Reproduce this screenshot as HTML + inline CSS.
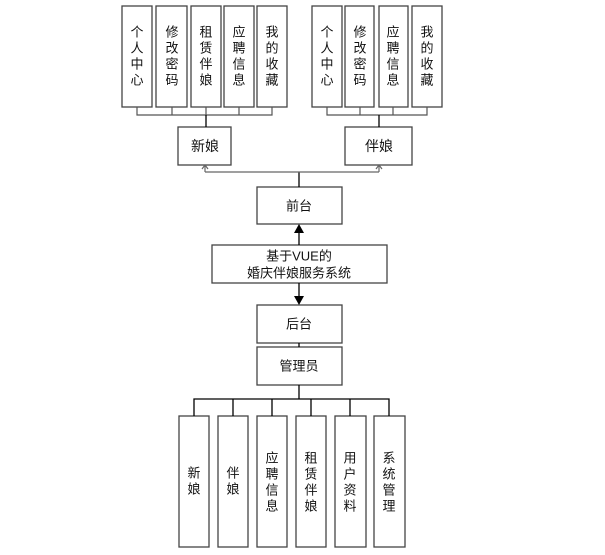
<!DOCTYPE html>
<html><head><meta charset="utf-8"><style>
html,body{margin:0;padding:0;background:#fff;width:605px;height:555px;overflow:hidden}
svg text{font-family:"Liberation Sans","Noto Sans CJK SC",sans-serif;font-size:13px;fill:#111;text-anchor:middle;dominant-baseline:central}
</style></head><body>
<svg width="605" height="555" viewBox="0 0 605 555" xmlns="http://www.w3.org/2000/svg">
<g fill="#fff" stroke="#444" stroke-width="1.3">
<!-- top left group -->
<rect x="122" y="6" width="30" height="101"/>
<rect x="156" y="6" width="31" height="101"/>
<rect x="191" y="6" width="30" height="101"/>
<rect x="224" y="6" width="30" height="101"/>
<rect x="257" y="6" width="30" height="101"/>
<!-- top right group -->
<rect x="312" y="6" width="30" height="101"/>
<rect x="345" y="6" width="29" height="101"/>
<rect x="379" y="6" width="29" height="101"/>
<rect x="412" y="6" width="30" height="101"/>
<rect x="178" y="127" width="53" height="38"/>
<rect x="345" y="127" width="67" height="38"/>
<rect x="257" y="187" width="85" height="37"/>
<rect x="212" y="245" width="175" height="38"/>
<rect x="257" y="305" width="85" height="38"/>
<rect x="257" y="347" width="85" height="38"/>
<rect x="179" y="416" width="30" height="131"/>
<rect x="218" y="416" width="30" height="131"/>
<rect x="257" y="416" width="30" height="131"/>
<rect x="296" y="416" width="30" height="131"/>
<rect x="335" y="416" width="31" height="131"/>
<rect x="374" y="416" width="31" height="131"/>
</g>
<g fill="none" stroke="#555" stroke-width="1.2">
<path d="M137 107V115H272V107M172 107V115M206 107V115M239 107V115"/>
<path d="M327 107V115H427V107M360 107V115M393 107V115"/>
</g>
<g fill="none" stroke="#000" stroke-width="1.3">
<path d="M206 115V127M379 115V127"/>
<path d="M299 187V172"/>
<path d="M299 245V232M299 283V296"/>
<path d="M299 343V347M299 385V399"/>
<path d="M194 416V399H389V416M233 399V416M272 399V416M311 399V416M350 399V416"/>
</g>
<g fill="none" stroke="#666" stroke-width="1.2">
<path d="M205 172H379M205 172V166M379 172V166"/>
<path d="M202 169L205 165L208 169M376 169L379 165L382 169"/>
</g>
<path d="M294 233L299 224L304 233Z" fill="#000"/>
<path d="M294 296L299 305L304 296Z" fill="#000"/>
<g>
<text x="137" y="32">个</text><text x="137" y="48">人</text><text x="137" y="64">中</text><text x="137" y="80">心</text>
<text x="172" y="32">修</text><text x="172" y="48">改</text><text x="172" y="64">密</text><text x="172" y="80">码</text>
<text x="206" y="32">租</text><text x="206" y="48">赁</text><text x="206" y="64">伴</text><text x="206" y="80">娘</text>
<text x="239" y="32">应</text><text x="239" y="48">聘</text><text x="239" y="64">信</text><text x="239" y="80">息</text>
<text x="272" y="32">我</text><text x="272" y="48">的</text><text x="272" y="64">收</text><text x="272" y="80">藏</text>
<text x="327" y="32">个</text><text x="327" y="48">人</text><text x="327" y="64">中</text><text x="327" y="80">心</text>
<text x="360" y="32">修</text><text x="360" y="48">改</text><text x="360" y="64">密</text><text x="360" y="80">码</text>
<text x="393" y="32">应</text><text x="393" y="48">聘</text><text x="393" y="64">信</text><text x="393" y="80">息</text>
<text x="427" y="32">我</text><text x="427" y="48">的</text><text x="427" y="64">收</text><text x="427" y="80">藏</text>
<text x="205" y="146" style="font-size:14px">新娘</text>
<text x="379" y="146" style="font-size:14px">伴娘</text>
<text x="299" y="206">前台</text>
<text x="299" y="256">基于VUE的</text>
<text x="299" y="273">婚庆伴娘服务系统</text>
<text x="299" y="324">后台</text>
<text x="299" y="366">管理员</text>
<text x="194" y="473">新</text><text x="194" y="489">娘</text>
<text x="233" y="473">伴</text><text x="233" y="489">娘</text>
<text x="272" y="458">应</text><text x="272" y="474">聘</text><text x="272" y="490">信</text><text x="272" y="506">息</text>
<text x="311" y="458">租</text><text x="311" y="474">赁</text><text x="311" y="490">伴</text><text x="311" y="506">娘</text>
<text x="350" y="458">用</text><text x="350" y="474">户</text><text x="350" y="490">资</text><text x="350" y="506">料</text>
<text x="389" y="458">系</text><text x="389" y="474">统</text><text x="389" y="490">管</text><text x="389" y="506">理</text>
</g>
</svg>
</body></html>
